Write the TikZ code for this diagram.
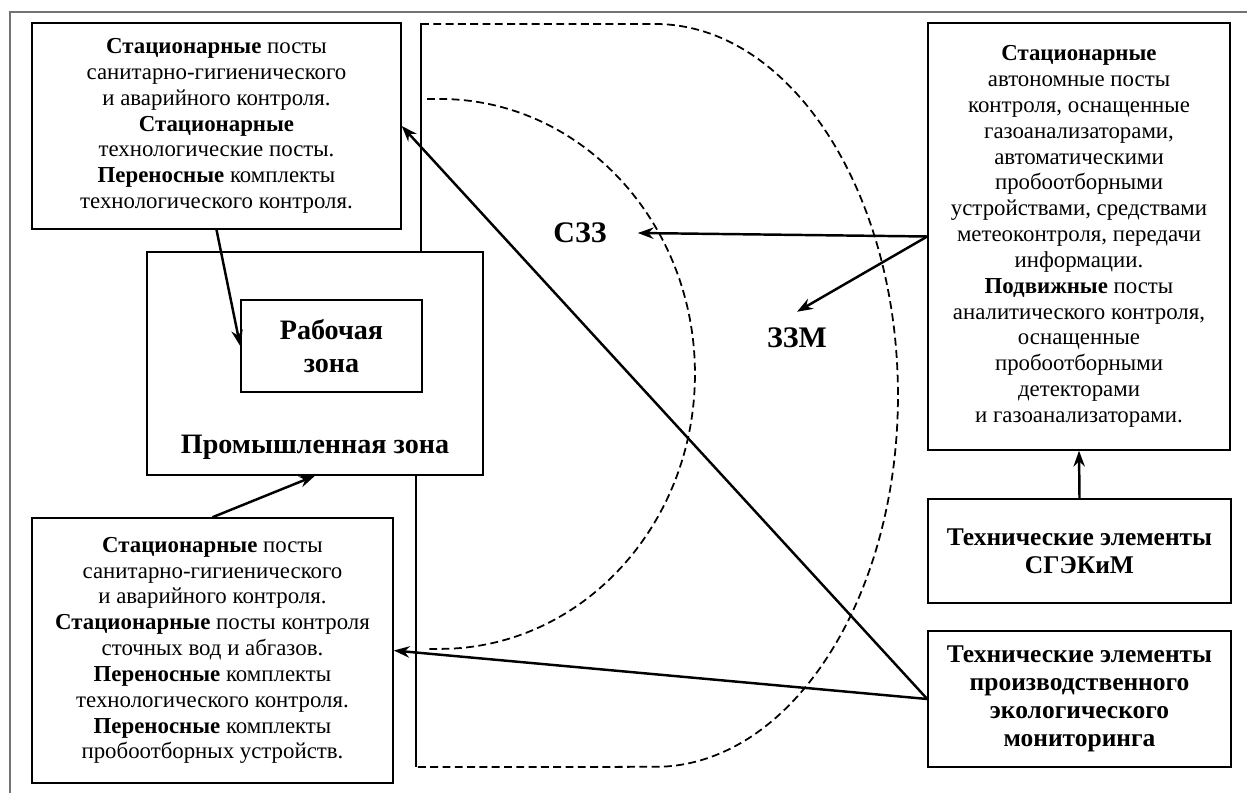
\documentclass[tikz,border=0pt]{standalone}
\usepackage{fontspec}
\setmainfont{Liberation Serif}
\usetikzlibrary{arrows.meta}

\begin{document}
\begin{tikzpicture}[x=0.02cm, y=-0.02cm,
  box/.style={draw, line width=0.9pt, inner sep=0pt, align=center},
  txt/.style={font=\fontsize{13}{14.7}\selectfont},
  hdr/.style={font=\fontsize{14.5}{15.9}\selectfont\bfseries},
  zonetext/.style={font=\fontsize{16}{18.7}\selectfont\bfseries},
  zlabel/.style={font=\fontsize{17}{20}\selectfont\bfseries},
  arr/.style={line width=1.4pt, -{Stealth[length=9pt,width=6.5pt]}},
  zone/.style={line width=1pt, dash pattern=on 4.5pt off 2.5pt}]
\useasboundingbox (0,0) rectangle (1247,793);
% page frame
\draw[black!55, line width=0.6pt] (10,793) -- (10,12) -- (1247,12);
% left column
\node[box, txt, minimum width=7.38cm, minimum height=4.12cm] (tl) at (216.5,126)
  {\textbf{Стационарные} посты\\санитарно-гигиенического\\и аварийного контроля.\\
   \textbf{Стационарные}\\технологические посты.\\\textbf{Переносные} комплекты\\технологического контроля.};
\node[box, minimum width=6.72cm, minimum height=4.46cm] (prom) at (315,363.5) {};
\node[zonetext] (promtext) at (315,447) {Промышленная зона};
\node[box, zonetext, minimum width=3.62cm, minimum height=1.84cm] (work) at (331.5,346)
  {Рабочая\\зона};
\node[box, txt, minimum width=7.22cm, minimum height=5.3cm] (bl) at (212.5,650.5)
  {\textbf{Стационарные} посты\\санитарно-гигиенического\\и аварийного контроля.\\
   \textbf{Стационарные} посты контроля\\сточных вод и абгазов.\\\textbf{Переносные} комплекты\\
   технологического контроля.\\\textbf{Переносные} комплекты\\пробоотборных устройств.};
% zone boundaries
\draw[line width=0.6pt] (421,23) -- (421,252);
\draw[line width=0.6pt] (416,475) -- (416,767);
\draw[zone] (421,24) -- (655,24) arc[start angle=90, end angle=-90, x radius=4.86cm, y radius=7.43cm] -- (416,767);
\draw[zone] (427,99) -- (440,99) arc[start angle=90, end angle=-90, x radius=5.1cm, y radius=5.5cm] -- (425,649);
\node[zlabel] (szz) at (580,233) {СЗЗ};
\node[zlabel] (zzm) at (797,338) {ЗЗМ};
% right column
\node[box, txt, minimum width=6.04cm, minimum height=8.54cm] (right) at (1079,236.5)
  {\textbf{Стационарные}\\автономные посты\\контроля, оснащенные\\газоанализаторами,\\автоматическими\\
   пробоотборными\\устройствами, средствами\\метеоконтроля, передачи\\информации.\\
   \textbf{Подвижные} посты\\аналитического контроля,\\оснащенные\\пробоотборными\\детекторами\\и газоанализаторами.};
\node[box, hdr, minimum width=6.06cm, minimum height=2.08cm] (sgek) at (1079.5,551)
  {Технические элементы\\СГЭКиМ};
\node[box, hdr, minimum width=6.06cm, minimum height=2.72cm] (pem) at (1079.5,699)
  {Технические элементы\\производственного\\экологического\\мониторинга};
% arrows
\draw[arr] (tl.south) -- (work.west);
\draw[arr] (bl.north) -- (prom.south);
\draw[arr] (sgek.north) -- (right.south);
\draw[arr] (right.west) -- ([xshift=0.5cm]szz.east);
\draw[arr] (right.west) -- ([yshift=0.2cm]zzm.north);
\draw[arr] (pem.west) -- (tl.east);
\draw[arr] (pem.west) -- (bl.east);
\end{tikzpicture}
\end{document}
